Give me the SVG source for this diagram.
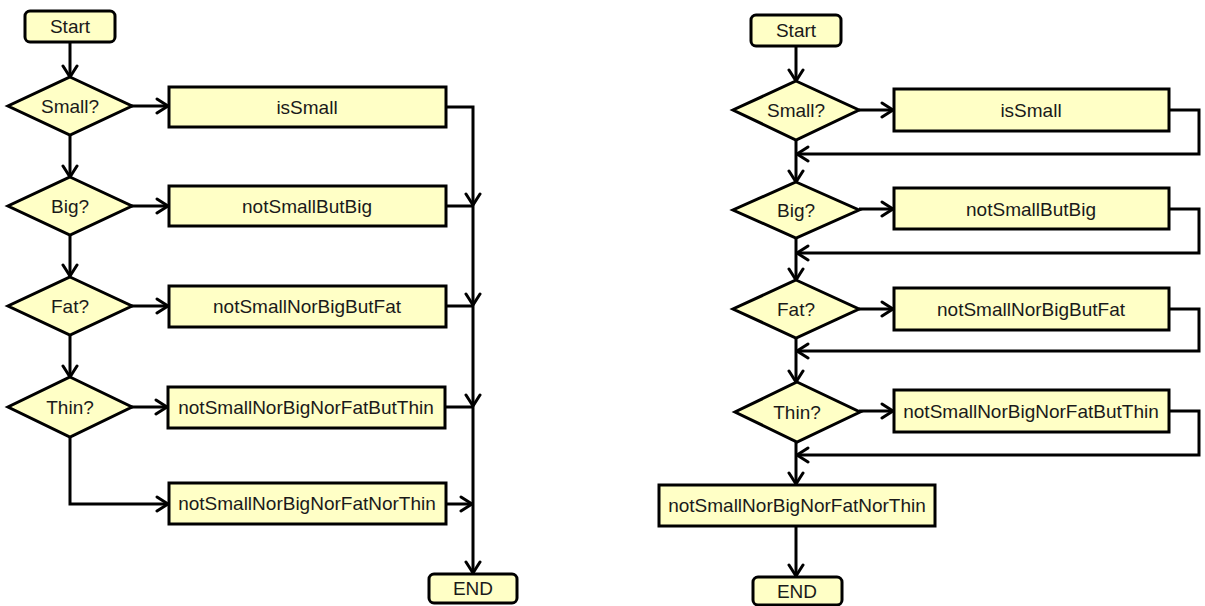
<svg xmlns="http://www.w3.org/2000/svg" width="1205" height="606" viewBox="0 0 1205 606">
<defs>
<style>
.box{fill:#FFFFC6;stroke:#000;stroke-width:3}
.t{font-family:"Liberation Sans",Arial,sans-serif;font-size:19px;fill:#1a1a1a;text-anchor:middle}
.c{fill:none;stroke:#000;stroke-width:3;stroke-linejoin:miter}
.a{marker-end:url(#arr)}
</style>
<marker id="arr" markerUnits="userSpaceOnUse" viewBox="0 0 16 18" refX="13" refY="9" markerWidth="16" markerHeight="18" orient="auto">
<path d="M2,2 L13,9 L2,16" fill="none" stroke="#000" stroke-width="3" stroke-linejoin="round" stroke-linecap="round"/>
</marker>
</defs>

<g id="connectors">
<!-- left -->
<path class="c a" d="M70,42 V77"/>
<path class="c a" d="M70,135 V177"/>
<path class="c a" d="M70,235 V276"/>
<path class="c a" d="M70,335 V377"/>
<path class="c a" d="M70,437 V504 H168"/>
<path class="c a" d="M131,106 H168"/>
<path class="c a" d="M131,206 H168"/>
<path class="c a" d="M131,306 H168"/>
<path class="c a" d="M131,407 H167"/>
<path class="c a" d="M446,107 H473 V205"/>
<path class="c a" d="M446,206 H473 V305"/>
<path class="c a" d="M446,306 H473 V406"/>
<path class="c a" d="M446,407 H473 V573"/>
<path class="c a" d="M446,504 H472"/>
<!-- right -->
<path class="c a" d="M796,46 V81"/>
<path class="c a" d="M796,140 V182"/>
<path class="c a" d="M796,238 V280"/>
<path class="c a" d="M796,338 V382"/>
<path class="c a" d="M796,442 V484"/>
<path class="c a" d="M796,526 V576"/>
<path class="c a" d="M859,110 H893"/>
<path class="c a" d="M859,209 H893"/>
<path class="c a" d="M859,309 H893"/>
<path class="c a" d="M859,411 H893"/>
<path class="c a" d="M1169,110 H1199 V154 H797"/>
<path class="c a" d="M1169,209 H1199 V253 H797"/>
<path class="c a" d="M1169,309 H1199 V351 H797"/>
<path class="c a" d="M1169,411 H1199 V455 H797"/>
</g>

<!-- left nodes -->
<g id="L-start"><rect class="box" x="25" y="11" width="90" height="31" rx="5"/><text class="t" x="70" y="33">Start</text></g>
<g id="L-small"><polygon class="box" points="70,77 132,106 70,135 8,106"/><text class="t" x="70" y="113">Small?</text></g>
<g id="L-isSmall"><rect class="box" x="169" y="87" width="277" height="40"/><text class="t" x="307" y="114">isSmall</text></g>
<g id="L-big"><polygon class="box" points="70,177 132,206 70,235 8,206"/><text class="t" x="70" y="213">Big?</text></g>
<g id="L-notSmallButBig"><rect class="box" x="169" y="186" width="277" height="40"/><text class="t" x="307" y="213">notSmallButBig</text></g>
<g id="L-fat"><polygon class="box" points="70,277 132,306 70,335 8,306"/><text class="t" x="70" y="313">Fat?</text></g>
<g id="L-notSmallNorBigButFat"><rect class="box" x="169" y="286" width="277" height="41"/><text class="t" x="307" y="313">notSmallNorBigButFat</text></g>
<g id="L-thin"><polygon class="box" points="70,377 132,407 70,437 8,407"/><text class="t" x="70" y="414">Thin?</text></g>
<g id="L-notSmallNorBigNorFatButThin"><rect class="box" x="168" y="387" width="277" height="41"/><text class="t" x="306" y="414">notSmallNorBigNorFatButThin</text></g>
<g id="L-notSmallNorBigNorFatNorThin"><rect class="box" x="169" y="483" width="277" height="41"/><text class="t" x="307" y="510">notSmallNorBigNorFatNorThin</text></g>
<g id="L-end"><rect class="box" x="429" y="574" width="88" height="29" rx="5"/><text class="t" x="473" y="595">END</text></g>

<!-- right nodes -->
<g id="R-start"><rect class="box" x="751" y="15" width="90" height="31" rx="5"/><text class="t" x="796" y="37">Start</text></g>
<g id="R-small"><polygon class="box" points="796,81 859,110 796,140 733,110"/><text class="t" x="796" y="117">Small?</text></g>
<g id="R-isSmall"><rect class="box" x="894" y="89" width="275" height="42"/><text class="t" x="1031" y="117">isSmall</text></g>
<g id="R-big"><polygon class="box" points="796,182 859,210 796,238 733,210"/><text class="t" x="796" y="217">Big?</text></g>
<g id="R-notSmallButBig"><rect class="box" x="894" y="188" width="275" height="41"/><text class="t" x="1031" y="216">notSmallButBig</text></g>
<g id="R-fat"><polygon class="box" points="796,280 859,309 796,338 733,309"/><text class="t" x="796" y="316">Fat?</text></g>
<g id="R-notSmallNorBigButFat"><rect class="box" x="894" y="288" width="275" height="42"/><text class="t" x="1031" y="316">notSmallNorBigButFat</text></g>
<g id="R-thin"><polygon class="box" points="797,382 860,412 797,442 735,412"/><text class="t" x="797" y="419">Thin?</text></g>
<g id="R-notSmallNorBigNorFatButThin"><rect class="box" x="894" y="390" width="275" height="42"/><text class="t" x="1031" y="418">notSmallNorBigNorFatButThin</text></g>
<g id="R-notSmallNorBigNorFatNorThin"><rect class="box" x="659" y="485" width="276" height="41"/><text class="t" x="797" y="512">notSmallNorBigNorFatNorThin</text></g>
<g id="R-end"><rect class="box" x="753" y="577" width="89" height="28" rx="5"/><text class="t" x="797" y="598">END</text></g>
</svg>
